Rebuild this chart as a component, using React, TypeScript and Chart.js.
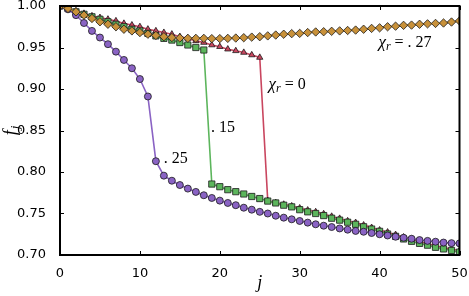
import React, { useEffect, useRef } from 'react';
import { Chart, registerables } from 'chart.js';
Chart.register(...registerables);

const J = [0,1,2,3,4,5,6,7,8,9,10,11,12,13,14,15,16,17,18,19,20,21,22,23,24,25,26,27,28,29,30,31,32,33,34,35,36,37,38,39,40,41,42,43,44,45,46,47,48,49,50];

const chi25 = [1.000,0.996,0.989,0.9795,0.970,0.962,0.954,0.945,0.935,0.925,0.912,0.891,0.813,0.7956,0.7895,0.7843,0.780,0.776,0.772,0.7687,0.7655,0.7627,0.760,0.757,0.7546,0.752,0.750,0.7473,0.745,0.743,0.741,0.739,0.737,0.7353,0.7337,0.732,0.7305,0.729,0.728,0.7265,0.725,0.7235,0.722,0.7208,0.7196,0.718,0.717,0.716,0.715,0.7143,0.714];

const chi15 = [1.000,0.997,0.993,0.990,0.987,0.984,0.981,0.978,0.975,0.972,0.970,0.967,0.964,0.961,0.959,0.956,0.953,0.950,0.947,0.7855,0.7823,0.7787,0.7763,0.7735,0.7705,0.768,0.765,0.7627,0.760,0.758,0.7546,0.752,0.750,0.7475,0.7443,0.742,0.7395,0.737,0.734,0.7313,0.7285,0.7253,0.7225,0.7193,0.7165,0.714,0.7118,0.7093,0.7073,0.7055,0.7035];

const chi0 = [1.000,0.997,0.994,0.991,0.988,0.986,0.984,0.982,0.979,0.977,0.975,0.972,0.970,0.968,0.966,0.963,0.961,0.958,0.956,0.953,0.951,0.948,0.946,0.944,0.941,0.938,0.7655,0.763,0.761,0.759,0.7565,0.754,0.752,0.7495,0.7465,0.744,0.741,0.739,0.736,0.733,0.730,0.7275,0.7245,0.7215,0.719,0.716,0.7135,0.711,0.709,0.707,0.7055];

const chi27 = [1.000,0.997,0.993,0.989,0.985,0.981,0.978,0.975,0.972,0.970,0.968,0.966,0.9645,0.963,0.962,0.9615,0.961,0.961,0.961,0.9607,0.9607,0.961,0.9614,0.9618,0.9625,0.963,0.964,0.965,0.966,0.9667,0.967,0.968,0.9687,0.969,0.9695,0.970,0.9705,0.971,0.972,0.973,0.9737,0.975,0.9757,0.9767,0.977,0.978,0.9785,0.979,0.9795,0.9807,0.982];

const X_TICKS = [0, 10, 20, 30, 40, 50];
const Y_TICKS = [0.70, 0.75, 0.80, 0.85, 0.90, 0.95, 1.00];

// annotation anchors in data coordinates: [j, f, chi-prefix?, value text]
const LABELS: { x: number; y: number; chi: boolean; text: string }[] = [
  { x: 39.85, y: 0.9506, chi: true, text: '. 27' },
  { x: 26.1, y: 0.900, chi: true, text: '0' },
  { x: 18.9, y: 0.848, chi: false, text: '. 15' },
  { x: 13.0, y: 0.811, chi: false, text: '. 25' },
];

const SERIF = '"Liberation Serif", "DejaVu Serif", serif';
const SANS = '"DejaVu Sans", sans-serif';

const toPts = (arr: number[]) => J.map((j, i) => ({ x: j, y: arr[i] }));

const framePlugin = {
  id: 'frame',
  afterDatasetsDraw(chart: any) {
    const { ctx, chartArea: a, scales } = chart;
    ctx.save();
    ctx.strokeStyle = '#000';
    ctx.lineWidth = 1;
    ctx.beginPath();
    for (const v of X_TICKS) {
      const px = Math.round(scales.x.getPixelForValue(v)) + 0.5;
      ctx.moveTo(px, a.bottom); ctx.lineTo(px, a.bottom - 4);
      ctx.moveTo(px, a.top); ctx.lineTo(px, a.top + 4);
    }
    for (const v of Y_TICKS) {
      const py = Math.round(scales.y.getPixelForValue(v)) + 0.5;
      ctx.moveTo(a.left, py); ctx.lineTo(a.left + 4, py);
      ctx.moveTo(a.right, py); ctx.lineTo(a.right - 4, py);
    }
    ctx.stroke();
    ctx.lineWidth = 2;
    ctx.strokeRect(a.left, a.top, a.right - a.left, a.bottom - a.top);

    // annotations
    ctx.fillStyle = '#000';
    ctx.textBaseline = 'alphabetic';
    ctx.textAlign = 'left';
    for (const L of LABELS) {
      let x = scales.x.getPixelForValue(L.x);
      const y = scales.y.getPixelForValue(L.y);
      if (L.chi) {
        ctx.font = `italic 17px ${SERIF}`;
        ctx.fillText('\u03c7', x, y);
        x += ctx.measureText('\u03c7').width;
        ctx.font = `italic 12px ${SERIF}`;
        ctx.fillText('r', x, y + 3);
        x += ctx.measureText('r').width + 4;
        ctx.font = `16px ${SERIF}`;
        ctx.fillText('=', x, y);
        x += ctx.measureText('=').width + 4;
      }
      ctx.font = `16px ${SERIF}`;
      ctx.fillText(L.text, x, y);
    }

    // axis titles
    const cx = (a.left + a.right) / 2;
    ctx.font = `italic 18px ${SERIF}`;
    ctx.textAlign = 'center';
    ctx.fillText('j', cx, 288);

    const cy = (a.top + a.bottom) / 2;
    ctx.save();
    ctx.translate(16, cy);
    ctx.rotate(-Math.PI / 2);
    ctx.textAlign = 'left';
    ctx.font = `italic 18px ${SERIF}`;
    const fw = ctx.measureText('f').width;
    ctx.font = `italic 13px ${SERIF}`;
    const jw = ctx.measureText('j').width;
    const start = -(fw + jw + 1) / 2;
    ctx.font = `italic 18px ${SERIF}`;
    ctx.fillText('f', start, 0);
    ctx.font = `italic 13px ${SERIF}`;
    ctx.fillText('j', start + fw + 1, 3);
    ctx.restore();

    ctx.restore();
  },
};

export default function App() {
  const ref = useRef<HTMLCanvasElement>(null);
  useEffect(() => {
    document.body.style.margin = '0';
    const ds = (label: string, data: number[], color: string, style: any, radius: number) => ({
      label,
      data: toPts(data),
      borderColor: color,
      backgroundColor: color,
      borderWidth: 1.6,
      pointStyle: style,
      pointRadius: radius,
      pointBackgroundColor: color,
      pointBorderColor: '#1a1a1a',
      pointBorderWidth: 0.8,
      tension: 0,
      clip: 0,
    });
    const chart = new Chart(ref.current!, {
      type: 'line',
      data: {
        datasets: [
          ds('chi=.27', chi27, '#c8913a', 'rectRot', 4.2),
          ds('chi=.25', chi25, '#8a63c4', 'circle', 3.5),
          ds('chi=.15', chi15, '#5cb55c', 'rect', 4.4),
          ds('chi=0', chi0, '#c9465f', 'triangle', 3.6),
        ],
      },
      options: {
        animation: false,
        responsive: false,
        maintainAspectRatio: false,
        events: [],
        layout: { padding: { top: 6, right: 9.5, left: 0, bottom: 0 } },
        plugins: { legend: { display: false }, tooltip: { enabled: false } },
        scales: {
          x: {
            type: 'linear',
            min: 0,
            max: 50,
            grid: { display: false },
            border: { display: false },
            ticks: {
              stepSize: 10,
              padding: 3,
              color: '#000',
              font: { family: SANS, size: 13 },
              maxRotation: 0,
            },
            afterFit(s: any) { s.height = 41; s.paddingLeft = 0; s.paddingRight = 0; },
          },
          y: {
            type: 'linear',
            min: 0.7,
            max: 1.0,
            grid: { display: false },
            border: { display: false },
            ticks: {
              stepSize: 0.05,
              padding: 6,
              color: '#000',
              font: { family: SANS, size: 13 },
              callback: (v: any) => Number(v).toFixed(2),
            },
            afterFit(s: any) { s.width = 60; s.paddingTop = 0; s.paddingBottom = 0; },
          },
        },
      },
      plugins: [framePlugin],
    });
    return () => chart.destroy();
  }, []);
  return <canvas ref={ref} width={469} height={296} style={{ display: 'block' }} />;
}
